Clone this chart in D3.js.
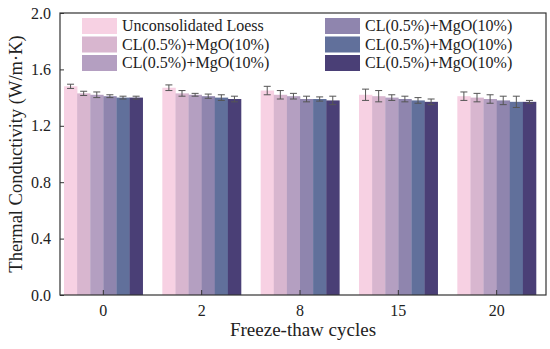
<!DOCTYPE html>
<html><head><meta charset="utf-8">
<script src="https://cdn.jsdelivr.net/npm/d3@7"></script>
<style>body{margin:0;background:#fff}svg{display:block}</style>
</head><body><svg id="c" width="550" height="349"></svg>
<script>
const categories = ["0","2","8","15","20"];
const seriesNames = ["Unconsolidated Loess","CL(0.5%)+MgO(10%)","CL(0.5%)+MgO(10%)","CL(0.5%)+MgO(10%)","CL(0.5%)+MgO(10%)","CL(0.5%)+MgO(10%)"];
const colors = ["#f7d1e3","#d8b6cf","#b49fc1","#8f85ae","#61709b","#4a3f76"];
const s1 = [1.48,1.47,1.45,1.42,1.41];
const s2 = [1.43,1.43,1.42,1.41,1.40];
const s3 = [1.42,1.42,1.41,1.40,1.39];
const s4 = [1.41,1.41,1.39,1.39,1.38];
const s5 = [1.40,1.40,1.39,1.38,1.37];
const s6 = [1.40,1.39,1.38,1.37,1.37];
const e1 = [0.015,0.02,0.03,0.04,0.03];
const e2 = [0.015,0.02,0.03,0.04,0.03];
const e3 = [0.02,0.01,0.02,0.02,0.03];
const e4 = [0.01,0.015,0.02,0.02,0.03];
const e5 = [0.01,0.02,0.015,0.02,0.04];
const e6 = [0.01,0.02,0.03,0.02,0.01];
const yTicks = [0,0.4,0.8,1.2,1.6,2.0];
const values = [s1,s2,s3,s4,s5,s6];
const errors = [e1,e2,e3,e4,e5,e6];

const svg = d3.select("#c");
const L=60, R=546, T=13, B=295;
const x0 = d3.scaleBand().domain(categories).range([L+4,R-10]).paddingInner(0.2).paddingOuter(0);
const x1 = d3.scaleBand().domain(d3.range(6)).range([0,x0.bandwidth()]);
const y = d3.scaleLinear().domain([0,2]).range([B,T]);
const font = "'Liberation Serif','Times New Roman',serif";

const g = svg.append("g");
categories.forEach((c,i)=>{
  values.forEach((s,j)=>{
    g.append("rect").attr("x",x0(c)+x1(j)).attr("width",x1.bandwidth()+0.3)
      .attr("y",y(s[i])).attr("height",B-y(s[i])).attr("fill",colors[j]);
  });
});
// error bars
categories.forEach((c,i)=>{
  values.forEach((s,j)=>{
    const cx = x0(c)+x1(j)+x1.bandwidth()/2;
    const hi=y(s[i]+errors[j][i]), lo=y(s[i]-errors[j][i]);
    const eg=g.append("g").attr("stroke","#555").attr("stroke-width",1);
    eg.append("line").attr("x1",cx).attr("x2",cx).attr("y1",hi).attr("y2",lo);
    eg.append("line").attr("x1",cx-3.5).attr("x2",cx+3.5).attr("y1",hi).attr("y2",hi);
    eg.append("line").attr("x1",cx-3.5).attr("x2",cx+3.5).attr("y1",lo).attr("y2",lo);
  });
});

// axes
const xa = svg.append("g").attr("transform",`translate(0,${B})`)
  .call(d3.axisBottom(x0).tickSizeInner(-5).tickSizeOuter(0).tickPadding(10));
xa.select(".domain").remove();
xa.selectAll("text").attr("font-family",font).attr("font-size",16).attr("fill","#222");
xa.selectAll("line").attr("stroke","#333");
const ya = svg.append("g").attr("transform",`translate(${L},0)`)
  .call(d3.axisLeft(y).tickValues(yTicks).tickFormat(d3.format(".1f")).tickSizeInner(-4).tickSizeOuter(0).tickPadding(9));
ya.select(".domain").remove();
ya.selectAll("text").attr("font-family",font).attr("font-size",16).attr("fill","#222");
ya.selectAll("line").attr("stroke","#333");
svg.append("rect").attr("x",L).attr("y",T).attr("width",R-L).attr("height",B-T)
  .attr("fill","none").attr("stroke","#333").attr("stroke-width",1.2);

svg.append("text").attr("x",(L+R)/2).attr("y",336).attr("text-anchor","middle")
  .attr("font-family",font).attr("font-size",19).attr("fill","#222").text("Freeze-thaw cycles");
svg.append("text").attr("transform",`translate(22,${(T+B)/2}) rotate(-90)`).attr("text-anchor","middle")
  .attr("font-family",font).attr("font-size",18.5).attr("fill","#222").text("Thermal Conductivity (W/m·K)");

// legend
const lg = svg.append("g");
seriesNames.forEach((n,j)=>{
  const col = Math.floor(j/3), row=j%3;
  const lx = col===0?82:325, ly = 18+row*18.5;
  lg.append("rect").attr("x",lx).attr("y",ly).attr("width",35).attr("height",16).attr("fill",colors[j]);
  lg.append("text").attr("x",lx+40).attr("y",ly+13).attr("font-family",font).attr("font-size",16)
    .attr("fill","#222").text(n);
});
</script></body></html>
